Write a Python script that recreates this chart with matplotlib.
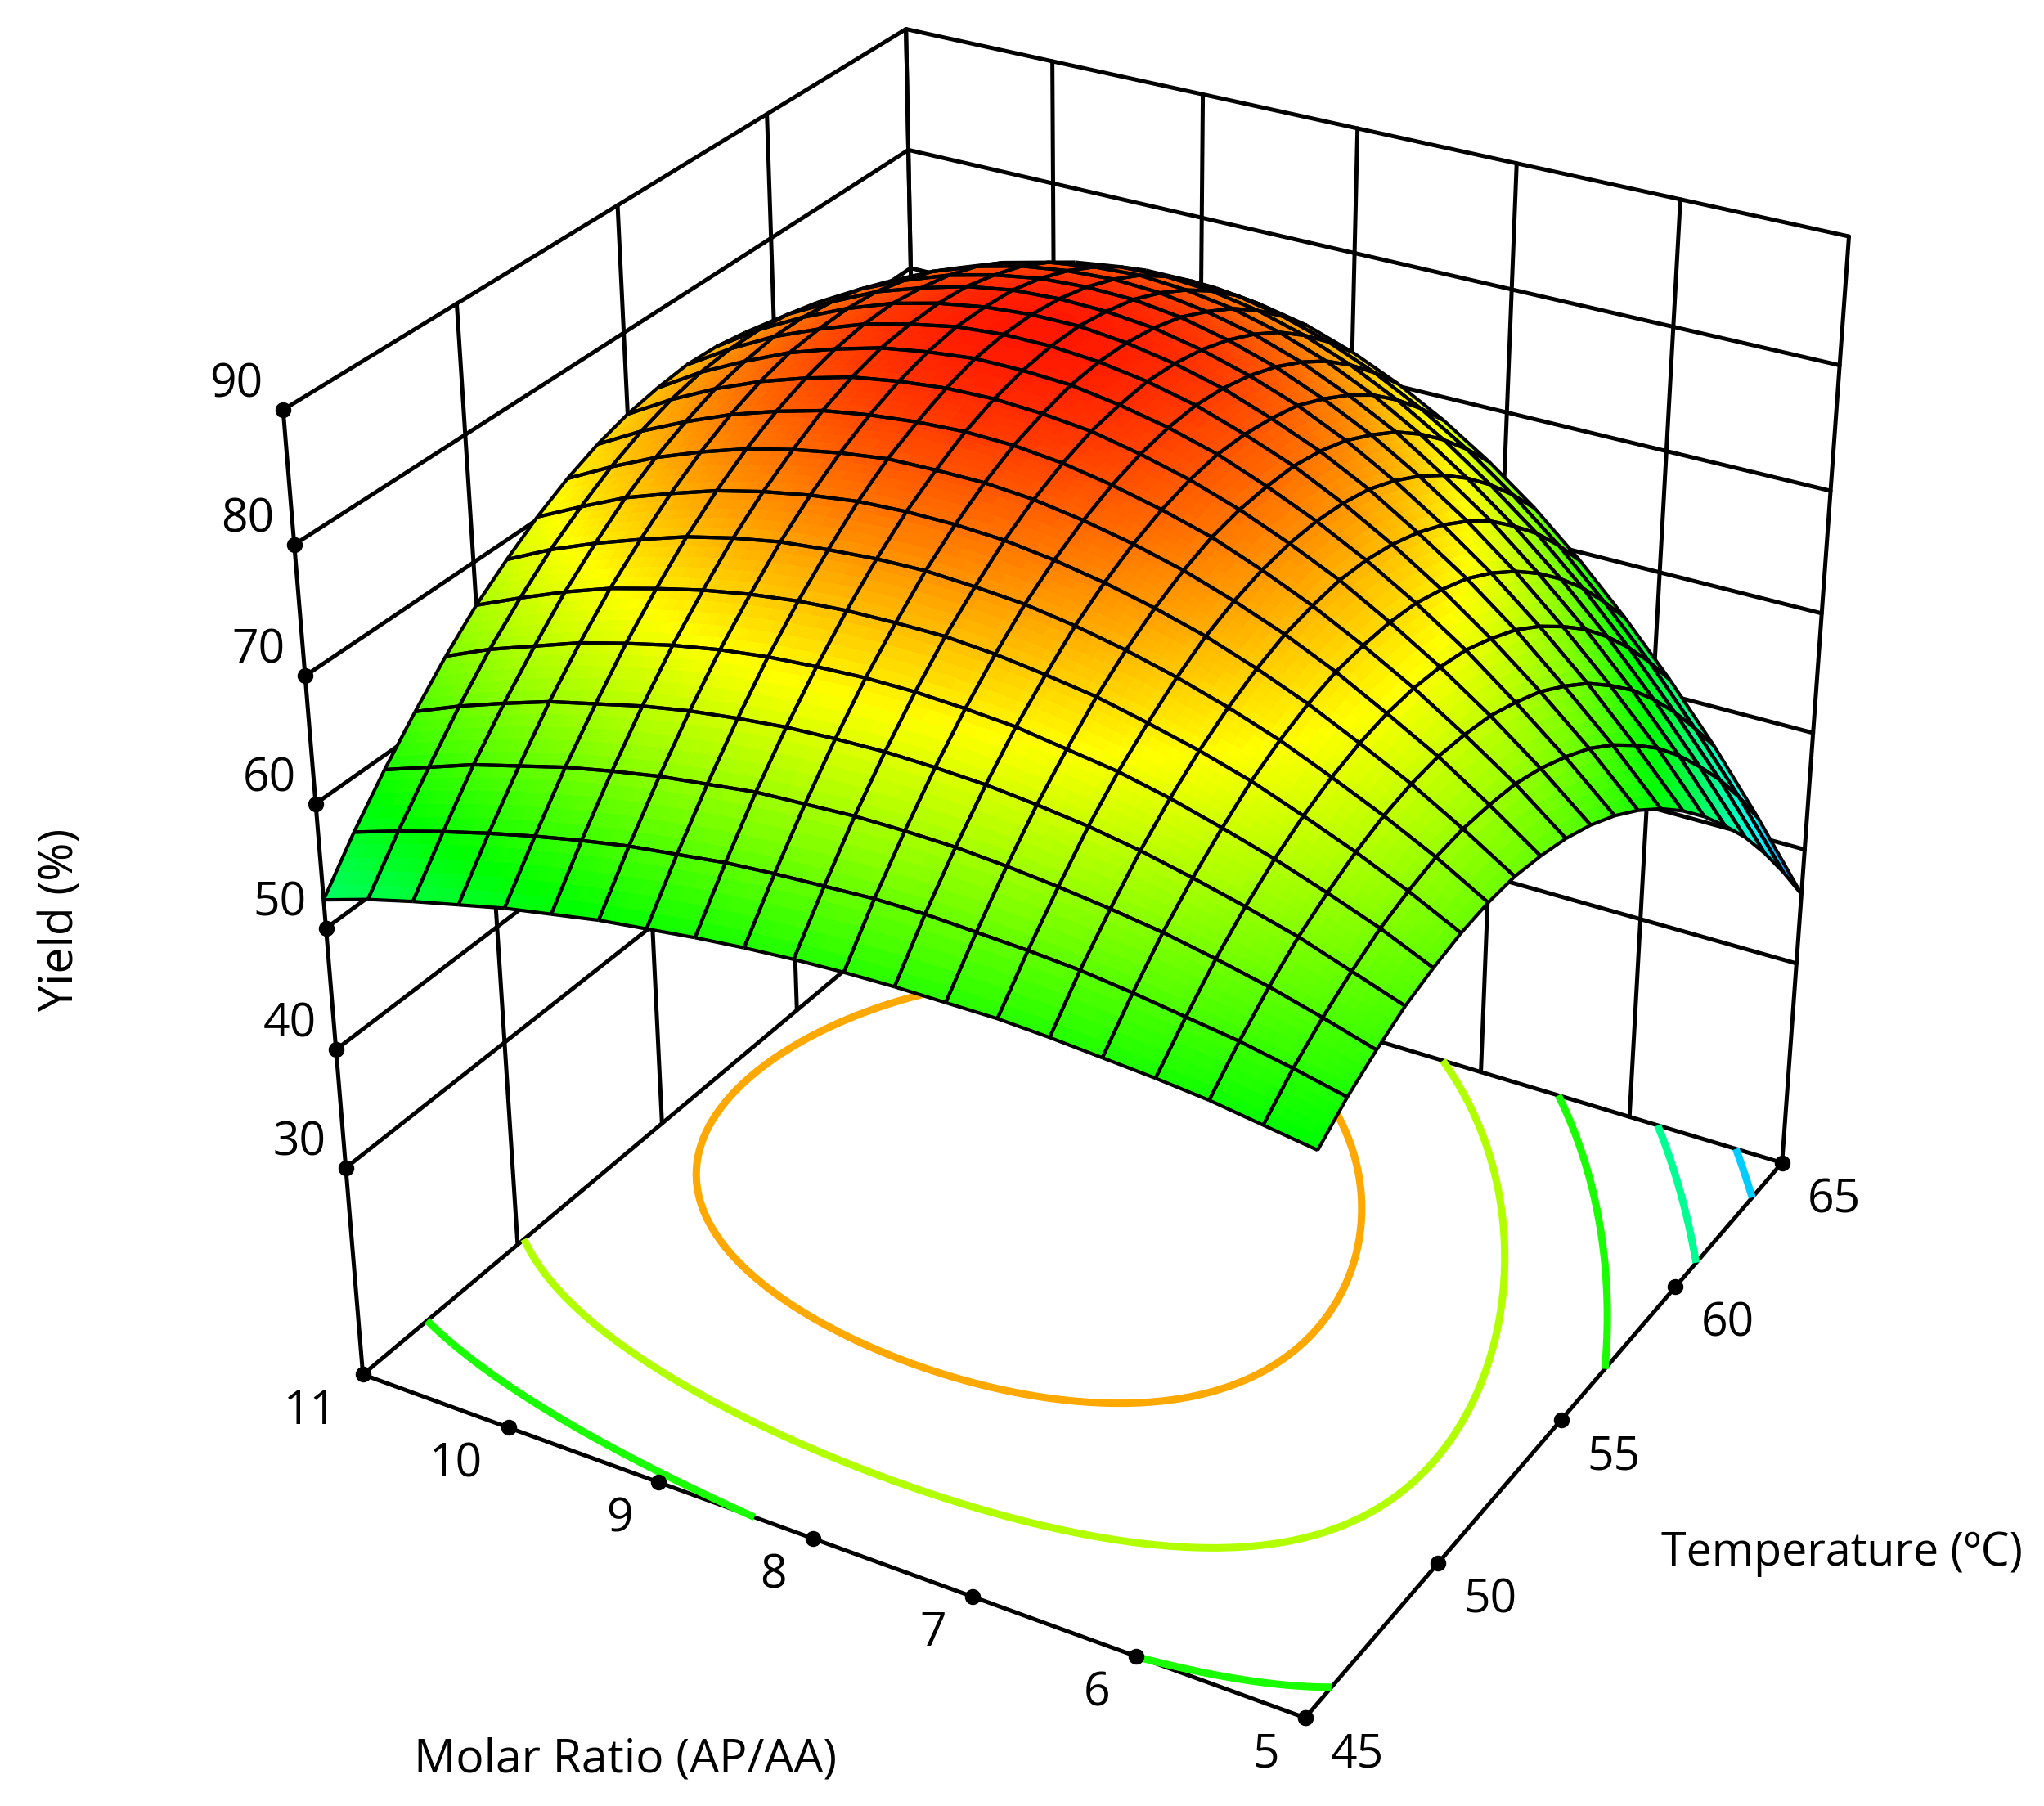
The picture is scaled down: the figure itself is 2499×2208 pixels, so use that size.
import numpy as np
import matplotlib
matplotlib.use("Agg")
import matplotlib.pyplot as plt
from matplotlib.colors import LinearSegmentedColormap, Normalize
from mpl_toolkits.mplot3d import proj3d
from mpl_toolkits.mplot3d.art3d import Line3DCollection

plt.rcParams["font.family"] = ["Open Sans", "DejaVu Sans"]

temperature = [45, 46, 47, 48, 49, 50, 51, 52, 53, 54, 55, 56, 57, 58, 59, 60, 61, 62, 63, 64, 65]
molarRatio = [5.0, 5.3, 5.6, 5.9, 6.2, 6.5, 6.8, 7.1, 7.4, 7.7, 8.0, 8.3, 8.6, 8.9, 9.2, 9.5, 9.8, 10.1, 10.4, 10.7, 11.0]

# yield, one row per molar ratio, one column per temperature
yieldTable = [
    [57.3, 59.1, 60.5, 61.7, 62.5, 63.1, 63.4, 63.4, 63.0, 62.4, 61.5, 60.3, 58.8, 57.0, 54.9, 52.5, 49.8, 46.9, 43.6, 40.0, 36.1],
    [57.9, 60.0, 61.7, 63.1, 64.3, 65.1, 65.7, 65.9, 65.8, 65.5, 64.8, 63.8, 62.6, 61.0, 59.1, 57.0, 54.5, 51.7, 48.7, 45.3, 41.6],
    [58.5, 60.8, 62.8, 64.5, 65.8, 66.9, 67.7, 68.2, 68.4, 68.2, 67.8, 67.0, 66.0, 64.6, 63.0, 61.0, 58.8, 56.2, 53.3, 50.1, 46.7],
    [58.9, 61.4, 63.7, 65.6, 67.2, 68.5, 69.5, 70.2, 70.6, 70.7, 70.5, 70.0, 69.1, 68.0, 66.5, 64.7, 62.7, 60.3, 57.6, 54.6, 51.3],
    [59.2, 62.0, 64.5, 66.6, 68.4, 70.0, 71.2, 72.1, 72.7, 72.9, 72.9, 72.6, 71.9, 71.0, 69.7, 68.1, 66.2, 64.0, 61.5, 58.6, 55.5],
    [59.5, 62.5, 65.1, 67.5, 69.5, 71.2, 72.6, 73.7, 74.5, 74.9, 75.1, 74.9, 74.4, 73.6, 72.5, 71.1, 69.4, 67.3, 65.0, 62.3, 59.3],
    [59.7, 62.8, 65.6, 68.2, 70.4, 72.2, 73.8, 75.1, 76.0, 76.6, 76.9, 76.9, 76.6, 76.0, 75.0, 73.7, 72.1, 70.2, 68.0, 65.5, 62.7],
    [59.7, 63.0, 66.0, 68.7, 71.0, 73.1, 74.8, 76.2, 77.3, 78.1, 78.5, 78.6, 78.5, 78.0, 77.2, 76.0, 74.6, 72.8, 70.7, 68.3, 65.6],
    [59.7, 63.2, 66.3, 69.1, 71.6, 73.7, 75.6, 77.1, 78.3, 79.2, 79.8, 80.1, 80.0, 79.6, 79.0, 77.9, 76.6, 75.0, 73.0, 70.7, 68.1],
    [59.6, 63.2, 66.4, 69.3, 71.9, 74.2, 76.2, 77.8, 79.1, 80.1, 80.8, 81.2, 81.3, 81.0, 80.4, 79.5, 78.3, 76.8, 74.9, 72.7, 70.2],
    [59.4, 63.0, 66.4, 69.4, 72.1, 74.5, 76.5, 78.3, 79.7, 80.8, 81.6, 82.0, 82.2, 82.0, 81.5, 80.7, 79.6, 78.2, 76.4, 74.3, 71.9],
    [59.1, 62.8, 66.2, 69.3, 72.1, 74.5, 76.7, 78.5, 80.0, 81.2, 82.0, 82.6, 82.8, 82.7, 82.3, 81.6, 80.5, 79.2, 77.5, 75.5, 73.2],
    [58.7, 62.5, 66.0, 69.1, 71.9, 74.4, 76.6, 78.5, 80.0, 81.3, 82.2, 82.8, 83.1, 83.1, 82.7, 82.1, 81.1, 79.8, 78.2, 76.3, 74.0],
    [58.2, 62.0, 65.5, 68.7, 71.6, 74.1, 76.3, 78.3, 79.9, 81.1, 82.1, 82.8, 83.1, 83.1, 82.8, 82.2, 81.3, 80.1, 78.5, 76.6, 74.5],
    [57.7, 61.5, 65.0, 68.2, 71.1, 73.6, 75.9, 77.8, 79.4, 80.7, 81.7, 82.4, 82.8, 82.8, 82.6, 82.0, 81.1, 79.9, 78.4, 76.6, 74.5],
    [57.0, 60.8, 64.3, 67.5, 70.4, 72.9, 75.2, 77.1, 78.7, 80.1, 81.1, 81.8, 82.1, 82.2, 82.0, 81.4, 80.6, 79.4, 77.9, 76.1, 74.0],
    [56.3, 60.0, 63.5, 66.6, 69.5, 72.0, 74.3, 76.2, 77.8, 79.1, 80.1, 80.8, 81.2, 81.3, 81.0, 80.5, 79.7, 78.5, 77.0, 75.3, 73.2],
    [55.4, 59.1, 62.5, 65.7, 68.5, 71.0, 73.1, 75.0, 76.6, 77.9, 78.9, 79.6, 79.9, 80.0, 79.8, 79.2, 78.4, 77.2, 75.8, 74.0, 71.9],
    [54.5, 58.1, 61.5, 64.5, 67.2, 69.7, 71.8, 73.7, 75.2, 76.4, 77.4, 78.0, 78.4, 78.4, 78.1, 77.6, 76.7, 75.5, 74.1, 72.3, 70.3],
    [53.5, 57.0, 60.2, 63.2, 65.9, 68.2, 70.3, 72.0, 73.5, 74.7, 75.6, 76.2, 76.5, 76.5, 76.2, 75.6, 74.7, 73.5, 72.0, 70.2, 68.2],
    [52.3, 55.8, 58.9, 61.7, 64.3, 66.6, 68.5, 70.2, 71.6, 72.7, 73.5, 74.0, 74.3, 74.2, 73.8, 73.2, 72.3, 71.1, 69.5, 67.7, 65.6],
]

contourLevels = [41.6, 50.0, 59.0, 67.0, 75.6]
yieldTicks = [30, 40, 50, 60, 70, 80, 90]
temperatureTicks = [45, 50, 55, 60, 65]
molarTicks = [5, 6, 7, 8, 9, 10, 11]
yieldFloor = 11.9
yieldTop = 90

WIDTH, HEIGHT = 2499, 2208

# camera and box, fitted to the box corners of the picture
ELEV, AZIM, ROLL = 29.8213, -149.6789, 0.1215
FOCAL = 0.5582
BOX = (0.997, 1.0028, 1.0)
SCALE, CENTER_X, CENTER_Y = 12077.0, 1335.1, 997.8


def refineTable(tValues, mValues, table, factor):
    """Finer grid for drawing only: smooth contour lines and shading inside the cells"""
    mFine = np.linspace(mValues[0], mValues[-1], (len(mValues) - 1) * factor + 1)
    tFine = np.linspace(tValues[0], tValues[-1], (len(tValues) - 1) * factor + 1)
    byMolar = np.array([np.polyval(np.polyfit(mValues - 8, col, 4), mFine - 8) for col in table.T]).T
    fine = np.array([np.polyval(np.polyfit(tValues - 55, row, 4), tFine - 55) for row in byMolar])
    return tFine, mFine, fine


def drawBox(ax):
    lineStyle = dict(color="k", lw=3.6, solid_capstyle="round", zorder=1)
    for t in temperatureTicks:
        ax.plot([t, t], [11, 11], [yieldFloor, yieldTop], **lineStyle)
    for m in molarTicks:
        ax.plot([65, 65], [m, m], [yieldFloor, yieldTop], **lineStyle)
    for z in yieldTicks + [yieldFloor]:
        ax.plot([45, 65], [11, 11], [z, z], **lineStyle)
        ax.plot([65, 65], [5, 11], [z, z], **lineStyle)
    ax.plot([45, 45], [5, 11], [yieldFloor, yieldFloor], **lineStyle)
    ax.plot([45, 65], [5, 5], [yieldFloor, yieldFloor], **lineStyle)

    dotStyle = dict(color="k", ms=13, ls="none", marker="o", zorder=3)
    ax.plot([45] * len(molarTicks), molarTicks, [yieldFloor] * len(molarTicks), **dotStyle)
    ax.plot(temperatureTicks, [5] * len(temperatureTicks), [yieldFloor] * len(temperatureTicks), **dotStyle)
    ax.plot([45] * len(yieldTicks), [11] * len(yieldTicks), yieldTicks, **dotStyle)


def drawMesh(ax, tValues, mValues, table):
    """Grid lines, only on the cells that face the viewer"""
    tGrid, mGrid = np.meshgrid(tValues, mValues)
    u, v, _ = proj3d.proj_transform(tGrid.ravel(), mGrid.ravel(), table.ravel(), ax.get_proj())
    u = u.reshape(table.shape)
    v = v.reshape(table.shape)
    area = (u[1:, 1:] - u[:-1, :-1]) * (v[1:, :-1] - v[:-1, 1:]) - (u[1:, :-1] - u[:-1, 1:]) * (v[1:, 1:] - v[:-1, :-1])
    frontSign = np.sign(np.median(area))

    segments = []
    for i in range(len(mValues) - 1):
        for j in range(len(tValues) - 1):
            if area[i, j] * frontSign < 0:
                continue
            a = (tValues[j], mValues[i], table[i, j])
            b = (tValues[j + 1], mValues[i], table[i, j + 1])
            c = (tValues[j + 1], mValues[i + 1], table[i + 1, j + 1])
            d = (tValues[j], mValues[i + 1], table[i + 1, j])
            segments += [[a, b], [b, c], [c, d], [d, a]]
    ax.add_collection3d(Line3DCollection(segments, colors="k", linewidths=3.0, zorder=5))


def tickLabel(ax, x, y, z, text, dx, dy, ha="center"):
    u, v, _ = proj3d.proj_transform(x, y, z, ax.get_proj())
    ax.annotate(text, xy=(u, v), xycoords="data", xytext=(dx, dy), textcoords="offset pixels",
                ha=ha, va="center", fontsize=41, annotation_clip=False)


def main():
    tValues = np.array(temperature, float)
    mValues = np.array(molarRatio, float)
    table = np.array(yieldTable, float)

    fig = plt.figure(figsize=(WIDTH / 100, HEIGHT / 100), dpi=100)
    ax = fig.add_subplot(projection="3d", computed_zorder=False)
    ax.set_xlim(45, 65, view_margin=0)
    ax.set_ylim(5, 11, view_margin=0)
    ax.set_zlim(yieldFloor, yieldTop, view_margin=0)
    ax.view_init(elev=ELEV, azim=AZIM, roll=ROLL)
    ax.set_proj_type("persp", focal_length=FOCAL)
    ax.set_box_aspect(BOX)
    ax.set_axis_off()

    # the 2D limits of a 3D axes run from -0.095 to 0.09
    side = SCALE * 0.185
    ax.set_position([(CENTER_X - SCALE * 0.095) / WIDTH, (HEIGHT - CENTER_Y - SCALE * 0.095) / HEIGHT,
                     side / WIDTH, side / HEIGHT])

    colorMap = LinearSegmentedColormap.from_list("rsm", ["#0000ff", "#00ffff", "#00ff00", "#ffff00", "#ff0000"])
    colorNorm = Normalize(30.8, 84.5)

    drawBox(ax)

    tFine, mFine, fine = refineTable(tValues, mValues, table, 5)
    tFineGrid, mFineGrid = np.meshgrid(tFine, mFine)
    ax.contour(tFineGrid, mFineGrid, fine, levels=contourLevels, cmap=colorMap, norm=colorNorm,
               zdir="z", offset=yieldFloor, linewidths=6.5, zorder=2)
    ax.plot_surface(tFineGrid, mFineGrid, fine, cmap=colorMap, norm=colorNorm, rstride=1, cstride=1,
                    linewidth=0, antialiased=False, shade=False, zorder=4)
    drawMesh(ax, tValues, mValues, table)

    for z in yieldTicks:
        tickLabel(ax, 45, 11, z, str(z), -57, 30)
    for m in molarTicks:
        tickLabel(ax, 45, m, yieldFloor, str(m), -32, -46, ha="right")
    for t in temperatureTicks:
        tickLabel(ax, t, 5, yieldFloor, str(t), 64, -46)

    fig.text(75 / WIDTH, 1 - 1124 / HEIGHT, "Yield (%)", rotation=90, ha="center", va="center", fontsize=41)
    fig.text(2252 / WIDTH, 1 - 1900 / HEIGHT, "Temperature (ºC)", ha="center", va="center", fontsize=40)
    fig.text(765 / WIDTH, 1 - 2152 / HEIGHT, "Molar Ratio (AP/AA)", ha="center", va="center", fontsize=41)

    fig.savefig("out.png")


if __name__ == "__main__":
    main()
